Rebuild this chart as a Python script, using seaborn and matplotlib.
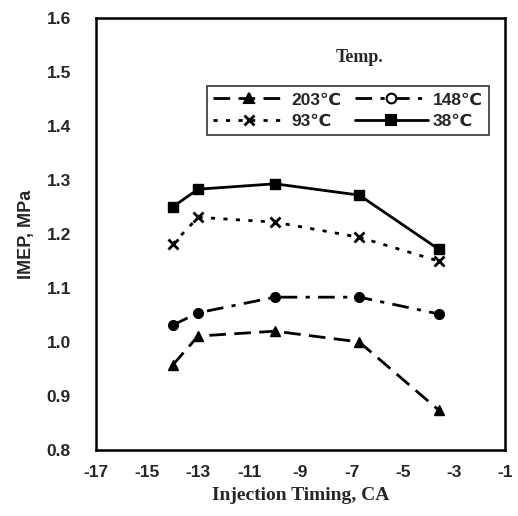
import matplotlib
matplotlib.use("Agg")
import matplotlib.pyplot as plt
import seaborn as sns
import pandas as pd
from matplotlib.lines import Line2D

# ---- data ----
timing = [-14, -13, -10, -6.7, -3.6]
imep_203 = [0.957, 1.011, 1.020, 1.000, 0.874]
imep_148 = [1.031, 1.054, 1.083, 1.083, 1.052]
imep_93 = [1.181, 1.231, 1.222, 1.194, 1.150]
imep_38 = [1.250, 1.283, 1.293, 1.272, 1.172]
series_labels = ["203℃", "148℃", "93℃", "38℃"]
x_ticks = [-17, -15, -13, -11, -9, -7, -5, -3, -1]
y_ticks = [0.8, 0.9, 1.0, 1.1, 1.2, 1.3, 1.4, 1.5, 1.6]

rows = []
for lab, vals in zip(series_labels, [imep_203, imep_148, imep_93, imep_38]):
    for t, v in zip(timing, vals):
        rows.append({"timing": t, "imep": v, "temp": lab})
df = pd.DataFrame(rows)

sns.set_style("white")
plt.rcParams["font.family"] = ["Liberation Sans", "DejaVu Sans"]

fig = plt.figure(figsize=(5.18, 5.16), dpi=100)
ax = fig.add_axes([0.185, 0.128, 0.79, 0.837])

styles = {
    "203℃": dict(ls=(0, (6, 3)), marker="^", ms=7),
    "148℃": dict(ls=(0, (6, 3, 1.5, 3)), marker="o", ms=7),
    "93℃": dict(ls=(0, (1.5, 3)), marker="x", ms=7, mew=2),
    "38℃": dict(ls="-", marker="s", ms=7),
}

for lab in series_labels:
    sub = df[df["temp"] == lab]
    st = styles[lab]
    sns.lineplot(data=sub, x="timing", y="imep", ax=ax, color="black",
                 linewidth=2.0, linestyle=st["ls"], marker=st["marker"],
                 markersize=st["ms"], markerfacecolor="black",
                 markeredgecolor="black", markeredgewidth=st.get("mew", 1),
                 label=lab, legend=False)

ax.set_xlim(-17, -1)
ax.set_ylim(0.8, 1.6)
ax.set_xticks(x_ticks)
ax.set_yticks(y_ticks)
ax.set_xticklabels([str(t) for t in x_ticks])
ax.set_yticklabels([f"{t:.1f}" for t in y_ticks])
ax.tick_params(direction="in", length=5, width=1.5, labelsize=12.5,
               top=False, right=False)
ax.tick_params(axis="x", pad=11)
ax.tick_params(axis="y", pad=18)
for lbl in ax.get_xticklabels() + ax.get_yticklabels():
    lbl.set_fontweight("bold")
for sp in ax.spines.values():
    sp.set_linewidth(1.8)
    sp.set_color("black")

ax.set_xlabel("Injection Timing, CA", family=["Liberation Serif"],
              fontsize=14, fontweight="bold", labelpad=5)
ax.set_ylabel("IMEP, MPa", fontsize=13, fontweight="bold", labelpad=8)

leg_order = ["203℃", "93℃", "148℃", "38℃"]
leg_handles = []
for lab in leg_order:
    st = styles[lab]
    mfc = "white" if lab == "148℃" else "black"
    leg_handles.append(Line2D([], [], color="black", lw=2.0, ls=st["ls"],
                              marker=st["marker"], ms=7, mfc=mfc,
                              mec="black", mew=st.get("mew", 1.5)))
leg = ax.legend(leg_handles, leg_order, ncol=2,
                loc="upper right", bbox_to_anchor=(0.982, 0.862),
                frameon=True, fancybox=False, edgecolor="black",
                handlelength=4.2, columnspacing=0.8, handletextpad=0.3,
                borderpad=0.35, labelspacing=0.35,
                prop={"family": ["Liberation Sans", "DejaVu Sans"],
                      "weight": "bold", "size": 12.5})
leg.get_frame().set_linewidth(1.2)

ax.text(0.645, 0.888, "Temp.", transform=ax.transAxes, ha="center",
        va="bottom", family=["Liberation Serif"], fontweight="bold",
        fontsize=13)

fig.savefig("out.png", dpi=100, facecolor="white")
